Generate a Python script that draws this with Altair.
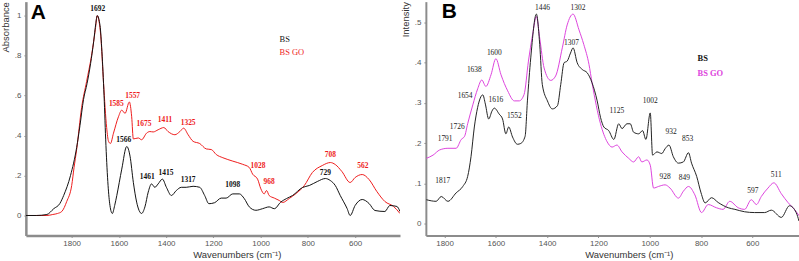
import altair as alt
import pandas as pd

# ---------------- Panel A (FTIR absorbance) ----------------
A_BS_WN = [1994, 1950, 1905, 1876, 1850, 1834, 1805, 1779, 1765, 1750, 1735, 1720, 1707, 1698, 1692,
           1680, 1672, 1663, 1655, 1646, 1638, 1628, 1618, 1609, 1588, 1567, 1553, 1539, 1525, 1504,
           1490, 1476, 1462, 1448, 1434, 1416, 1399, 1378, 1357, 1336, 1315, 1286, 1258, 1237, 1219,
           1195, 1167, 1146, 1118, 1090, 1069, 1048, 1020, 992, 964, 942, 915, 890, 865, 823, 794,
           760, 726, 705, 684, 663, 634, 621, 600, 570, 541, 516, 474, 453, 423, 410]
A_BS_VAL = [0.0, 0.0, 0.005, 0.034, 0.06, 0.1, 0.2, 0.34, 0.45, 0.58, 0.66, 0.76, 0.87, 0.96, 1.0,
            0.95, 0.82, 0.6, 0.35, 0.15, 0.05, 0.01, 0.05, 0.1, 0.232, 0.345, 0.297, 0.166, 0.067, 0.01,
            0.043, 0.117, 0.158, 0.141, 0.158, 0.182, 0.141, 0.1, 0.125, 0.141, 0.141, 0.146, 0.141, 0.1, 0.059,
            0.064, 0.087, 0.087, 0.108, 0.108, 0.084, 0.043, 0.026, 0.034, 0.043, 0.034, 0.067, 0.085, 0.1, 0.14, 0.15,
            0.17, 0.185, 0.175, 0.15, 0.1, 0.035, 0.0, 0.05, 0.08, 0.06, 0.025, 0.02, 0.05, 0.045, 0.02]

A_GO_WN = [1994, 1905, 1880, 1860, 1842, 1821, 1800, 1790, 1779, 1758, 1737, 1716, 1700, 1692, 1684,
           1677, 1665, 1652, 1644, 1636, 1623, 1602, 1588, 1574, 1556, 1546, 1539, 1518, 1504, 1483,
           1469, 1455, 1434, 1410, 1392, 1363, 1342, 1326, 1307, 1286, 1258, 1230, 1209, 1188, 1160,
           1118, 1076, 1048, 1034, 1013, 999, 985, 975, 964, 942, 921, 907, 879, 850, 815, 781,
           739, 705, 684, 656, 621, 600, 570, 541, 508, 474, 437, 410]
A_GO_VAL = [0.0, 0.0, 0.005, 0.01, 0.02, 0.07, 0.15, 0.24, 0.33, 0.54, 0.67, 0.8, 0.93, 1.0, 0.97,
            0.9, 0.66, 0.44, 0.371, 0.36, 0.412, 0.494, 0.527, 0.511, 0.568, 0.494, 0.383, 0.388, 0.379, 0.412,
            0.42, 0.418, 0.429, 0.44, 0.42, 0.404, 0.42, 0.437, 0.404, 0.371, 0.36, 0.333, 0.33, 0.305, 0.289,
            0.272, 0.256, 0.24, 0.207, 0.182, 0.133, 0.108, 0.125, 0.1, 0.087, 0.075, 0.065, 0.085, 0.11, 0.15, 0.215,
            0.25, 0.265, 0.255, 0.22, 0.165, 0.19, 0.205, 0.18, 0.12, 0.07, 0.045, 0.01]

A_LBL_BS_TEXT = ["1692", "1566", "1461", "1415", "1317", "1098", "729"]
A_LBL_BS_WN = [1690, 1580, 1480, 1401, 1307, 1118, 726]
A_LBL_BS_VAL = [1.035, 0.38, 0.195, 0.215, 0.18, 0.15, 0.215]
A_LBL_GO_TEXT = ["1585", "1557", "1675", "1411", "1325", "1028", "968", "708", "562"]
A_LBL_GO_WN = [1611, 1542, 1494, 1405, 1307, 1011, 964, 705, 567]
A_LBL_GO_VAL = [0.56, 0.6, 0.46, 0.48, 0.465, 0.248, 0.166, 0.305, 0.25]

# ---------------- Panel B (Raman intensity) ----------------
B_BS_WN = [1871, 1833, 1813, 1787, 1755, 1729, 1710, 1697, 1684, 1671, 1651, 1641, 1628, 1615, 1606,
           1587, 1574, 1561, 1550, 1535, 1516, 1503, 1486, 1477, 1464, 1442, 1429, 1419, 1399, 1380,
           1360, 1347, 1334, 1322, 1309, 1299, 1283, 1263, 1244, 1225, 1205, 1192, 1179, 1160, 1140,
           1121, 1108, 1089, 1076, 1063, 1043, 1028, 1015, 998, 989, 972, 953, 940, 925, 908, 888,
           869, 849, 837, 817, 800, 784, 759, 733, 694, 668, 630, 591, 552, 526, 487, 455, 429, 418]
B_BS_VAL = [0.059, 0.055, 0.067, 0.055, 0.076, 0.092, 0.117, 0.166, 0.24, 0.289, 0.32, 0.297, 0.26, 0.28, 0.287,
            0.272, 0.26, 0.223, 0.24, 0.215, 0.197, 0.199, 0.217, 0.305, 0.412, 0.521, 0.445, 0.346, 0.305, 0.285,
            0.293, 0.346, 0.4, 0.404, 0.424, 0.437, 0.4, 0.383, 0.375, 0.35, 0.305, 0.264, 0.24, 0.231, 0.209,
            0.248, 0.236, 0.248, 0.248, 0.227, 0.223, 0.231, 0.209, 0.275, 0.17, 0.178, 0.174, 0.186, 0.195, 0.166, 0.15,
            0.153, 0.176, 0.15, 0.117, 0.076, 0.051, 0.064, 0.052, 0.039, 0.035, 0.029, 0.027, 0.027, 0.033, 0.015, 0.044, 0.027, 0.006]

B_GO_WN = [1871, 1845, 1819, 1787, 1755, 1735, 1722, 1710, 1690, 1671, 1655, 1639, 1619, 1600, 1580,
           1554, 1528, 1509, 1490, 1473, 1457, 1442, 1429, 1412, 1386, 1367, 1341, 1322, 1299, 1276,
           1257, 1237, 1225, 1192, 1166, 1147, 1128, 1108, 1082, 1063, 1043, 1031, 1011, 998, 985,
           966, 940, 921, 888, 869, 849, 824, 798, 772, 740, 714, 688, 655, 630, 604, 584, 565,
           539, 516, 487, 461, 436, 416]
B_GO_VAL = [0.162, 0.17, 0.183, 0.187, 0.187, 0.209, 0.217, 0.248, 0.295, 0.335, 0.357, 0.341, 0.37, 0.41, 0.37,
            0.33, 0.305, 0.305, 0.321, 0.404, 0.469, 0.515, 0.461, 0.387, 0.356, 0.367, 0.437, 0.494, 0.521, 0.482,
            0.445, 0.396, 0.35, 0.248, 0.203, 0.19, 0.195, 0.178, 0.162, 0.153, 0.166, 0.153, 0.158, 0.145, 0.088,
            0.092, 0.096, 0.088, 0.063, 0.08, 0.092, 0.071, 0.027, 0.047, 0.039, 0.035, 0.055, 0.039, 0.035, 0.059, 0.047, 0.067,
            0.088, 0.101, 0.074, 0.052, 0.035, 0.018]

B_LBL_TEXT = ["1446", "1302", "1307", "1600", "1638", "1654", "1616", "1552", "1726", "1791", "1817",
              "1125", "1002", "932", "853", "928", "849", "597", "511"]
B_LBL_WN = [1418, 1280, 1305, 1606, 1684, 1720, 1600, 1528, 1751, 1798, 1807,
            1128, 998, 917, 852, 940, 865, 598, 507]
B_LBL_VAL = [0.537, 0.537, 0.449, 0.424, 0.383, 0.316, 0.308, 0.268, 0.24, 0.209, 0.106,
             0.281, 0.304, 0.227, 0.209, 0.115, 0.113, 0.08, 0.121]

SERIES = ["BS", "BS GO"]

AXIS_COMMON = dict(
    grid=False, domainColor="#8c8c8c", tickColor="#8c8c8c", tickSize=2,
    labelColor="#555555", labelFont="Liberation Sans", labelFontSize=8,
    titleColor="#333333", titleFont="Liberation Sans", titleFontSize=9.5, titleFontWeight="normal",
)

YLBL = "datum.value == 0 ? '0' : datum.value == 1 ? '1' : replace(format(datum.value, '.1f'), '0.', '.')"


def panel(series, lbl_sets, bold_labels, xdom, ydom, yticks, ytitle, w, h,
          letter, letter_xy, legend_xy, legend_colors, legend_bold, xtitle_x, domain_w):
    x = alt.X("wn:Q", scale=alt.Scale(domain=xdom, reverse=True, nice=False, zero=False),
              axis=alt.Axis(values=[1800, 1600, 1400, 1200, 1000, 800, 600], format="d",
                            title="Wavenumbers (cm⁻¹)", titleX=xtitle_x, titlePadding=2,
                            domainWidth=domain_w, labelPadding=2, **AXIS_COMMON))
    y = alt.Y("val:Q", scale=alt.Scale(domain=ydom, nice=False, zero=False),
              axis=alt.Axis(values=yticks, labelExpr=YLBL, title=ytitle, titleAnchor="end",
                            titlePadding=4, domainWidth=domain_w, labelPadding=3, **AXIS_COMMON))
    layers = []
    for wns, vals, col in series:
        df = pd.DataFrame({"wn": wns, "val": vals})
        layers.append(alt.Chart(df).mark_line(strokeWidth=1, clip=True, interpolate="monotone",
                                              color=col).encode(x=x, y=y))
    for texts, wns, vals, col in lbl_sets:
        df = pd.DataFrame({"text": texts, "wn": wns, "val": vals})
        layers.append(alt.Chart(df).mark_text(
            font="Liberation Serif", fontSize=7.5, fontWeight="bold" if bold_labels else "normal",
            align="center", baseline="middle", color=col,
        ).encode(x="wn:Q", y="val:Q", text="text:N"))
    layers.append(alt.Chart(pd.DataFrame({"t": [letter]})).mark_text(
        font="Liberation Sans", fontSize=21, fontWeight="bold", align="left", baseline="alphabetic",
        color="#000000",
    ).encode(x=alt.value(letter_xy[0]), y=alt.value(letter_xy[1]), text="t:N"))
    for i, name in enumerate(SERIES):
        layers.append(
            alt.Chart(pd.DataFrame({"t": [name]})).mark_text(
                font="Liberation Serif", fontSize=8.5, fontWeight="bold" if legend_bold else "normal",
                align="left", baseline="middle", color=legend_colors[i],
            ).encode(x=alt.value(legend_xy[0]), y=alt.value(legend_xy[1] + i * legend_xy[2]), text="t:N")
        )
    return alt.layer(*layers).properties(width=w, height=h)


RED = "#ee1c1c"
MAG = "#dd44dd"

chartA = panel(
    [(A_GO_WN, A_GO_VAL, RED), (A_BS_WN, A_BS_VAL, "#111111")],
    [(A_LBL_BS_TEXT, A_LBL_BS_WN, A_LBL_BS_VAL, "#111111"),
     (A_LBL_GO_TEXT, A_LBL_GO_WN, A_LBL_GO_VAL, RED)],
    True, [410, 1994], [-0.1, 1.07], [0, 0.2, 0.4, 0.6, 0.8, 1], "Absorbance", 376, 235,
    "A", (5, 17), (255, 38, 13), ["#111111", RED], False, 212, 2.5)

chartB = panel(
    [(B_GO_WN, B_GO_VAL, MAG), (B_BS_WN, B_BS_VAL, "#222222")],
    [(B_LBL_TEXT, B_LBL_WN, B_LBL_VAL, "#222222")],
    False, [418, 1873], [-0.03, 0.552], [0, 0.1, 0.2, 0.3, 0.4, 0.5], "Intensity", 375, 235,
    "B", (16, 16), (273, 57, 15), ["#111111", MAG], True, 204, 2)

chart = alt.hconcat(chartA, chartB, spacing=0).properties(padding=0).configure_view(stroke=None)

chart.save("out.html", embed_options={"renderer": "svg", "actions": False})
